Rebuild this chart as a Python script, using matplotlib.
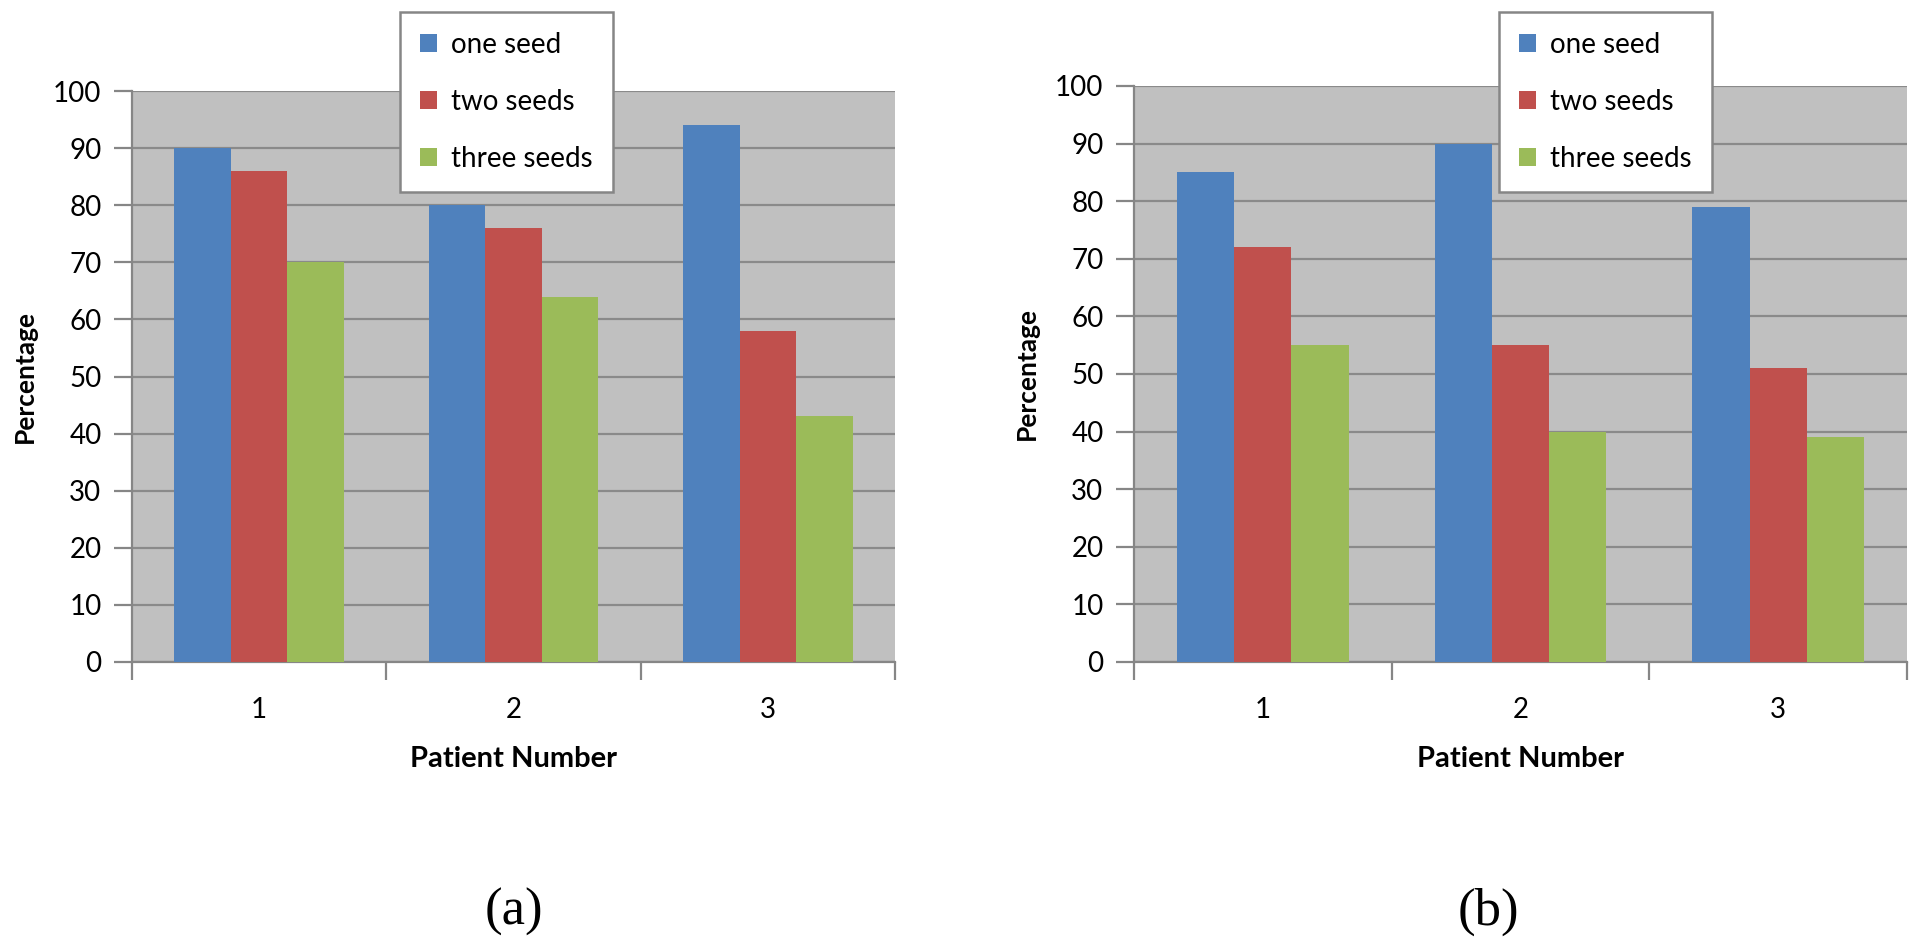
import matplotlib
matplotlib.use("Agg")
import matplotlib.pyplot as plt
import numpy as np

patients = ["1", "2", "3"]
series = ["one seed", "two seeds", "three seeds"]
colors = ["#4F81BD", "#C0504D", "#9BBB59"]

# panel (a)
a_one = [90, 80, 94]
a_two = [86, 76, 58]
a_three = [70, 64, 43]
# panel (b)
b_one = [85, 90, 79]
b_two = [72, 55, 51]
b_three = [55, 40, 39]

FONT = "Lato"
plt.rcParams["font.family"] = [FONT, "DejaVu Sans"]

W, H = 1920, 950
fig = plt.figure(figsize=(W / 100, H / 100), dpi=100)


def draw_panel(rect, data, legend_xy, tag, tag_x):
    ax = fig.add_axes(rect)
    ax.set_facecolor("#C0C0C0")
    x = np.arange(len(patients))
    w = 1 / 4.5
    for i, (vals, lab, col) in enumerate(zip(data, series, colors)):
        ax.bar(x + (i - 1) * w, vals, w, color=col, label=lab, zorder=3)
    ax.set_xlim(-0.5, len(patients) - 0.5)
    ax.set_ylim(0, 100)
    ax.set_yticks(np.arange(0, 101, 10))
    ax.yaxis.grid(True, color="#8A8A8A", lw=1.6, zorder=1)
    ax.set_axisbelow(True)
    for s in ("top", "right"):
        ax.spines[s].set_visible(False)
    for s in ("left", "bottom"):
        ax.spines[s].set_color("#868686"); ax.spines[s].set_linewidth(1.6)
    ax.set_xticks(x)
    ax.set_xticklabels(patients, fontsize=20)
    ax.tick_params(axis="x", length=0, pad=25)
    ax.set_xticks(np.arange(-0.5, len(patients)), minor=True)
    ax.tick_params(axis="x", which="minor", length=13, width=1.6, color="#868686")
    ax.tick_params(axis="y", length=13, width=1.6, color="#868686", labelsize=20, pad=9)
    ax.set_xlabel("Patient Number", fontsize=21, fontweight="bold", labelpad=17)
    ax.set_ylabel("Percentage", fontsize=19, fontweight="bold", labelpad=12)
    leg = ax.legend(loc="upper left", bbox_to_anchor=(legend_xy[0] / W, 1 - legend_xy[1] / H),
                    bbox_transform=fig.transFigure, fontsize=20, frameon=True, fancybox=False,
                    edgecolor="#868686", framealpha=1, handlelength=0.62, handleheight=0.62,
                    handletextpad=0.5, labelspacing=1.12, borderpad=0.72, borderaxespad=0)
    leg.get_frame().set_linewidth(1.8)
    leg.set_zorder(10)
    fig.text(tag_x / W, 1 - 912 / H, tag, fontsize=38, family="Liberation Serif",
             ha="center", va="center")
    return ax


draw_panel([132 / W, 1 - 662 / H, 763 / W, 571 / H], [a_one, a_two, a_three], (400, 12), "(a)", 514)
draw_panel([1134 / W, 1 - 662 / H, 773 / W, 576 / H], [b_one, b_two, b_three], (1499, 12), "(b)", 1488)

fig.savefig("out.png", dpi=100)
